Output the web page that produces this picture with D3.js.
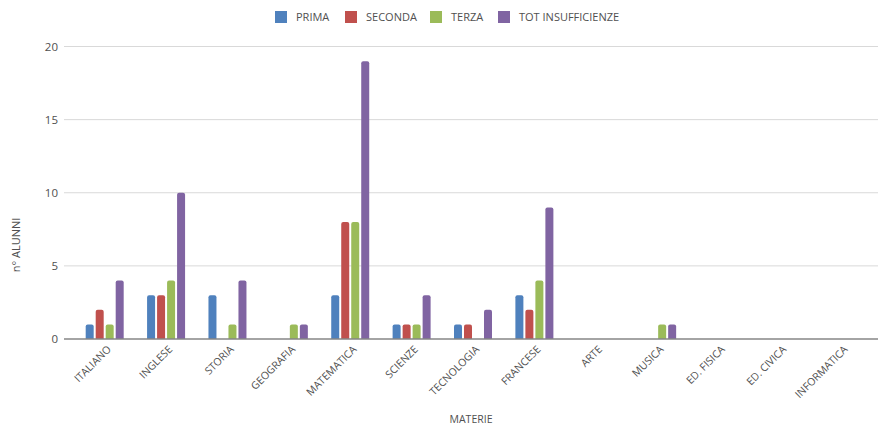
<!DOCTYPE html>
<html>
<head>
<meta charset="utf-8">
<script src="https://cdn.jsdelivr.net/npm/d3@7"></script>
<style>
  body { margin: 0; background: #fff; }
  text { font-family: "Open Sans", sans-serif; fill: #505050; }
</style>
</head>
<body>
<script>
var materie = ['ITALIANO', 'INGLESE', 'STORIA', 'GEOGRAFIA', 'MATEMATICA', 'SCIENZE',
  'TECNOLOGIA', 'FRANCESE', 'ARTE', 'MUSICA', 'ED. FISICA', 'ED. CIVICA', 'INFORMATICA'];
var serie = ['PRIMA', 'SECONDA', 'TERZA', 'TOT INSUFFICIENZE'];
var prima = [1, 3, 3, 0, 3, 1, 1, 3, 0, 0, 0, 0, 0];
var seconda = [2, 3, 0, 0, 8, 1, 1, 2, 0, 0, 0, 0, 0];
var terza = [1, 4, 1, 1, 8, 1, 0, 4, 0, 1, 0, 0, 0];
var totInsufficienze = [4, 10, 4, 1, 19, 3, 2, 9, 0, 1, 0, 0, 0];
var yTicks = [0, 5, 10, 15, 20];
var colori = ['#4f81bd', '#c0504d', '#9bbb59', '#8064a2'];

var valori = [prima, seconda, terza, totInsufficienze];

var width = 879;
var height = 428;

var svg = d3.select('body').append('svg')
            .attr('width', width)
            .attr('height', height);

var x = d3.scaleBand().domain(materie).range([74, 872]);
var y = d3.scaleLinear().domain([0, 20]).range([339, 46.5]);
var barW = 8, step = 10;
var inner = d3.scaleBand().domain(serie).range([0, step * 4]);

// griglia
svg.append('g').selectAll('line').data(yTicks.slice(1))
   .enter().append('line')
   .attr('x1', 64).attr('x2', 878)
   .attr('y1', function(d) { return y(d); })
   .attr('y2', function(d) { return y(d); })
   .attr('stroke', '#d9d9d9').attr('stroke-width', 1);

svg.append('g').selectAll('text').data(yTicks)
   .enter().append('text')
   .attr('x', 58)
   .attr('y', function(d) { return y(d) + 4; })
   .attr('text-anchor', 'end')
   .attr('font-size', 11.5)
   .text(function(d) { return d; });

// barre
serie.forEach(function(s, i) {
  svg.append('g').selectAll('path').data(materie)
     .enter().append('path')
     .attr('fill', colori[i])
     .attr('d', function(m, j) {
       var v = valori[i][j];
       if (!v) return '';
       var x0 = x(m) + x.bandwidth() / 2 - step * 2 + inner(s) + 1;
       var y0 = y(v), y1 = y(0), r = 2;
       return 'M' + x0 + ',' + y1 + 'V' + (y0 + r) +
              'Q' + x0 + ',' + y0 + ' ' + (x0 + r) + ',' + y0 +
              'H' + (x0 + barW - r) +
              'Q' + (x0 + barW) + ',' + y0 + ' ' + (x0 + barW) + ',' + (y0 + r) +
              'V' + y1 + 'Z';
     });
});

// asse x
svg.append('line')
   .attr('x1', 64).attr('x2', 878)
   .attr('y1', y(0)).attr('y2', y(0))
   .attr('stroke', '#868686').attr('stroke-width', 1.3);

svg.append('g').selectAll('text').data(materie)
   .enter().append('text')
   .attr('text-anchor', 'end')
   .attr('font-size', 10.5)
   .attr('transform', function(d) {
     return 'translate(' + (x(d) + x.bandwidth() / 2 + 7) + ',' + 350 + ') rotate(-45)';
   })
   .text(function(d) { return d; });

// titoli
svg.append('text')
   .attr('x', 471).attr('y', 423)
   .attr('text-anchor', 'middle')
   .attr('font-size', 10.5)
   .text('MATERIE');

svg.append('text')
   .attr('transform', 'translate(20,' + 245 + ') rotate(-90)')
   .attr('text-anchor', 'middle')
   .attr('font-size', 11)
   .text('n° ALUNNI');

// legenda
var legX = [275, 345, 430, 498];
serie.forEach(function(s, i) {
  svg.append('rect')
     .attr('x', legX[i]).attr('y', 11)
     .attr('width', 12).attr('height', 12)
     .attr('fill', colori[i]);
  svg.append('text')
     .attr('x', legX[i] + 21).attr('y', 21)
     .attr('font-size', 11)
     .text(s);
});
</script>
</body>
</html>
